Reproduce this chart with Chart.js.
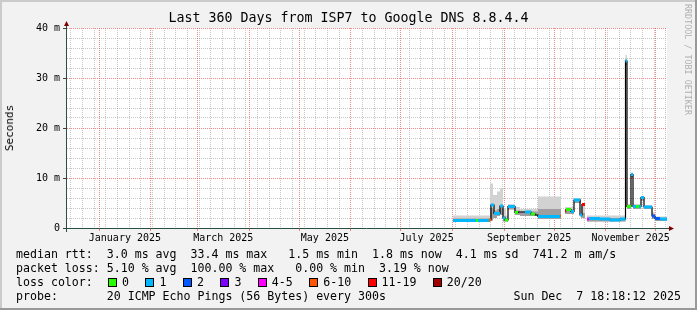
<!DOCTYPE html>
<html>
<head>
<meta charset="utf-8">
<script src="https://cdn.jsdelivr.net/npm/chart.js@4.4.1/dist/chart.umd.min.js"></script>
<style>
  html, body { margin: 0; padding: 0; background: #f2f2f2; }
  #wrap { position: relative; width: 697px; height: 310px; overflow: hidden;
          font-family: "DejaVu Sans Mono", monospace; color: #000; }
  #myChart { position: absolute; left: 0; top: 0; }
  .txt { position: absolute; white-space: pre; font-size: 11.6px; line-height: 14px; }
  #title { position: absolute; left: 0; top: 10px; width: 697px; text-align: center;
           font-size: 13.3px; line-height: 16px; white-space: pre; }
  #ylab { position: absolute; left: 10px; top: 128px; font-size: 11px; line-height: 12px;
          transform: translate(-50%, -50%) rotate(-90deg); white-space: pre; }
  #mark { position: absolute; left: 683px; top: 4px; writing-mode: vertical-rl;
          font-size: 8.4px; color: #b0b0b0; white-space: pre; letter-spacing: 0; }
  .box { position: absolute; width: 7px; height: 7px; border: 1px solid #000; }
</style>
</head>
<body>
<div id="wrap">
  <canvas id="myChart" width="697" height="310"></canvas>
  <div id="title">Last 360 Days from ISP7 to Google DNS 8.8.4.4</div>
  <div id="ylab">Seconds</div>
  <div id="mark">RRDTOOL / TOBI OETIKER</div>
  <div class="txt" style="left:16px; top:247px;">median rtt:  3.0 ms avg  33.4 ms max   1.5 ms min  1.8 ms now  4.1 ms sd  741.2 m am/s</div>
  <div class="txt" style="left:16px; top:261px;">packet loss: 5.10 % avg  100.00 % max   0.00 % min  3.19 % now</div>
  <div class="txt" style="left:16px; top:275px;">loss color:</div>
  <div id="losses"></div>
  <div class="txt" style="left:16px; top:289px;">probe:       20 ICMP Echo Pings (56 Bytes) every 300s</div>
  <div class="txt" style="right:16px; top:289px;">Sun Dec  7 18:18:12 2025</div>
</div>
<script>
// time frame: 360 days ending at the graph time
const endTime = Date.UTC(2025, 11, 7, 18, 18, 12);
const spanDays = 360;
const startTime = endTime - spanDays * 86400000;

const monthLabels = ['January 2025', 'March 2025', 'May 2025', 'July 2025', 'September 2025', 'November 2025'];
const monthLabelMonths = [0, 2, 4, 6, 8, 10];

const yTickValues = [0, 10, 20, 30, 40];
const yTickLabels = ['0', '10 m', '20 m', '30 m', '40 m'];

const lossLabels = ['0', '1', '2', '3', '4-5', '6-10', '11-19', '20/20'];
const lossColors = ['#26ff00', '#00b8ff', '#0059ff', '#7e00ff', '#ff00ff', '#ff5500', '#ff0000', '#a10000'];

// median rtt runs (day in window, ms, loss color index, -1 = plain line)
const medStart = [231.6, 245.4, 246.6, 253.2, 254.4, 256.2, 259.8, 261.6, 262.8, 264.6, 268.8, 270.6, 274.8, 278.4, 280.8, 282.6, 295.8,
                  298.8, 299.4, 302.4, 304.2, 307.8, 309.0,
                  312.0, 313.2, 319.8, 325.8, 331.8, 335.1, 336.0, 338.4, 339.6, 341.4, 343.2, 344.4, 346.2, 351.0, 352.8, 355.8];
const medEnd   = [245.4, 246.6, 253.2, 254.4, 256.2, 259.8, 261.6, 262.8, 264.6, 268.8, 270.6, 274.8, 278.4, 280.8, 282.6, 295.8, 296.4,
                  299.4, 302.4, 304.2, 307.8, 309.0, 310.8,
                  313.2, 319.8, 325.8, 331.8, 335.1, 336.0, 338.4, 339.6, 341.4, 343.2, 344.4, 346.2, 351.0, 352.8, 355.8, 360.0];
const medMs    = [1.5, 1.5, 1.5, 1.6, 4.6, 2.9, 4.4, 2.0, 1.6, 4.3, 3.1, 3.2, 3.2, 2.8, 2.6, 2.3, 2.4,
                  3.4, 3.7, 3.3, 5.6, 2.6, 4.7,
                  1.8, 1.9, 1.8, 1.6, 1.8, 33.4, 4.3, 10.7, 4.3, 4.3, 4.3, 6.1, 4.2, 2.4, 1.9, 1.8];
const medLoss  = [1, 0, 1, 5, 1, 1, 1, 1, 0, 1, 0, -1, 1, 0, -1, 1, 5,
                  6, 0, 1, 1, 1, 6,
                  4, 1, 1, 1, 1, 1, 0, 1, 1, 0, 1, 1, 1, 2, 2, 1];

// smoke (spread of the 20 pings), ms
const smokeStart = [231.6, 253.8, 255.6, 258.0, 259.8, 261.6, 263.4, 264.6, 268.8, 271.8, 282.6,
                    298.8, 304.2, 308.4,
                    312.0, 335.1, 336.0, 338.4, 339.6, 344.4, 346.2, 351.0, 352.8];
const smokeEnd   = [253.8, 255.6, 258.0, 259.8, 261.6, 263.4, 264.6, 268.8, 271.8, 282.6, 296.4,
                    304.2, 308.4, 310.8,
                    335.1, 336.0, 338.4, 339.6, 344.4, 346.2, 351.0, 352.8, 360.0];
const smokeLo    = [1.2, 1.5, 2.0, 2.4, 2.6, 1.3, 1.3, 3.7, 2.6, 2.4, 1.8,
                    2.8, 5.0, 2.0,
                    1.3, 32.6, 3.8, 10.1, 3.8, 5.5, 3.8, 1.8, 1.4];
const smokeCore  = [1.9, 4.0, 3.5, 3.8, 4.5, 2.4, 2.0, 4.4, 3.5, 3.3, 3.8,
                    3.7, 5.7, 3.0,
                    2.0, 33.8, 4.4, 10.8, 4.4, 6.2, 4.3, 2.8, 2.0];
const smokeHi    = [2.5, 8.9, 6.6, 7.3, 7.9, 4.0, 2.5, 4.8, 4.2, 3.8, 6.3,
                    4.2, 6.0, 4.8,
                    2.5, 34.6, 4.8, 11.1, 4.8, 6.4, 4.6, 3.2, 2.3];

function dayOf(t) { return (t - startTime) / 86400000; }

function steps(starts, ends, vals) {
  const pts = [];
  for (let i = 0; i < starts.length; i++) {
    if (i > 0 && Math.abs(starts[i] - ends[i - 1]) > 0.01) pts.push({x: ends[i - 1], y: null});
    pts.push({x: starts[i], y: vals[i]});
    pts.push({x: ends[i], y: vals[i]});
  }
  return pts;
}

let colored = [];
let coloredLoss = [];
for (let i = 0; i < medStart.length; i++) {
  if (medLoss[i] < 0) continue;
  colored.push({x: medStart[i], y: medMs[i]}); coloredLoss.push(medLoss[i]);
  colored.push({x: medEnd[i], y: medMs[i]}); coloredLoss.push(medLoss[i]);
  colored.push({x: medEnd[i], y: null}); coloredLoss.push(-1);
}

function buildXTicks() {
  const ticks = [];
  for (let m = 0; m < 12; m++) {
    const d = dayOf(Date.UTC(2025, m, 1));
    if (d > 0 && d < spanDays) ticks.push({value: d, kind: 'month'});
  }
  let t = Date.UTC(2024, 11, 15); // first Sunday
  while (dayOf(t) < spanDays) {
    const d = dayOf(t);
    if (!ticks.some(k => Math.abs(k.value - d) < 0.5)) ticks.push({value: d, kind: 'week'});
    t += 7 * 86400000;
  }
  monthLabels.forEach((lab, i) => {
    const m = monthLabelMonths[i];
    const a = dayOf(Date.UTC(2025, m, 1)), b = dayOf(Date.UTC(2025, m + 1, 1));
    ticks.push({value: (a + b) / 2, kind: 'label', text: lab});
  });
  ticks.sort((a, b) => a.value - b.value);
  return ticks;
}

const majorGrid = 'rgba(240,60,60,0.6)';
const minorGrid = 'rgba(130,130,130,0.45)';

const framePlugin = {
  id: 'frame',
  beforeDraw(chart) {
    const c = chart.ctx, a = chart.chartArea;
    c.save();
    c.fillStyle = '#f2f2f2';
    c.fillRect(0, 0, chart.width, chart.height);
    c.fillStyle = '#cbcbcb';
    c.fillRect(0, 0, chart.width, 2);
    c.fillRect(0, 0, 2, chart.height);
    c.fillStyle = '#999999';
    c.fillRect(0, chart.height - 2, chart.width, 2);
    c.fillRect(chart.width - 2, 0, 2, chart.height);
    c.fillStyle = '#ffffff';
    c.fillRect(a.left, a.top, a.right - a.left, a.bottom - a.top);
    c.restore();
  },
  afterDraw(chart) {
    const c = chart.ctx, a = chart.chartArea;
    c.save();
    c.strokeStyle = '#2c4d43';
    c.lineWidth = 1;
    c.beginPath();
    c.moveTo(a.left - 0.5, a.bottom + 4);
    c.lineTo(a.left - 0.5, a.top - 3);
    c.moveTo(a.left - 4, a.bottom + 0.5);
    c.lineTo(a.right + 3, a.bottom + 0.5);
    c.stroke();
    c.fillStyle = '#7f0000';
    c.beginPath();
    c.moveTo(a.left - 3, a.top - 2);
    c.lineTo(a.left + 2, a.top - 2);
    c.lineTo(a.left - 0.5, a.top - 7);
    c.closePath();
    c.fill();
    c.beginPath();
    c.moveTo(a.right + 2, a.bottom - 2);
    c.lineTo(a.right + 2, a.bottom + 3);
    c.lineTo(a.right + 7, a.bottom + 0.5);
    c.closePath();
    c.fill();
    c.restore();
  }
};

const data = {
  datasets: [
    {
      label: 'median loss',
      data: colored,
      borderWidth: 3,
      borderColor: '#00b8ff',
      segment: {
        borderColor: ctx => lossColors[coloredLoss[ctx.p0DataIndex]] || 'rgba(0,0,0,0)'
      },
      pointRadius: 0,
      fill: false,
      order: 0
    },
    {
      label: 'median',
      data: steps(medStart, medEnd, medMs),
      borderColor: '#000000',
      borderWidth: 1.2,
      pointRadius: 0,
      fill: false,
      order: 1
    },
    {
      label: 'smoke core',
      data: steps(smokeStart, smokeEnd, smokeCore),
      borderWidth: 0,
      borderColor: 'rgba(0,0,0,0)',
      backgroundColor: '#9e9e9e',
      pointRadius: 0,
      fill: 4,
      order: 2
    },
    {
      label: 'smoke',
      data: steps(smokeStart, smokeEnd, smokeHi),
      borderWidth: 0,
      borderColor: 'rgba(0,0,0,0)',
      backgroundColor: '#d2d2d2',
      pointRadius: 0,
      fill: 4,
      order: 3
    },
    {
      label: 'smoke min',
      data: steps(smokeStart, smokeEnd, smokeLo),
      borderWidth: 0,
      borderColor: 'rgba(0,0,0,0)',
      pointRadius: 0,
      fill: false,
      order: 4
    }
  ]
};

const config = {
  type: 'line',
  data: data,
  plugins: [framePlugin],
  options: {
    responsive: false,
    animation: false,
    events: [],
    layout: { padding: { left: 0, top: 28, right: 30, bottom: 62 } },
    plugins: { legend: { display: false }, tooltip: { enabled: false }, title: { display: false } },
    scales: {
      x: {
        type: 'linear',
        min: 0,
        max: spanDays,
        afterBuildTicks: scale => { scale.ticks = buildXTicks(); },
        afterFit: scale => { scale.height = 20; },
        border: { display: false, dash: [1, 1] },
        grid: {
          color: ctx => ctx.tick.kind === 'month' ? majorGrid : (ctx.tick.kind === 'week' ? minorGrid : 'rgba(0,0,0,0)'),
          tickColor: ctx => ctx.tick.kind === 'month' ? majorGrid : 'rgba(0,0,0,0)',
          tickLength: 3,
          lineWidth: 1
        },
        ticks: {
          autoSkip: false,
          maxRotation: 0,
          padding: 1,
          color: '#000',
          font: { family: 'DejaVu Sans Mono', size: 10 },
          callback: (v, i, ticks) => ticks[i].kind === 'label' ? ticks[i].text : ''
        }
      },
      y: {
        min: 0,
        max: 40,
        afterFit: scale => { scale.width = 67; },
        border: { display: false, dash: [1, 1] },
        grid: {
          color: ctx => ctx.tick.value % 10 === 0 ? majorGrid : minorGrid,
          tickColor: ctx => ctx.tick.value % 10 === 0 ? '#2c4d43' : 'rgba(0,0,0,0)',
          tickLength: 4
        },
        ticks: {
          stepSize: 2,
          maxTicksLimit: 1000,
          autoSkip: false,
          padding: 3,
          color: '#000',
          font: { family: 'DejaVu Sans Mono', size: 10 },
          callback: v => {
            const k = yTickValues.indexOf(v);
            return k >= 0 ? yTickLabels[k] : '';
          }
        }
      }
    }
  }
};

// loss colour legend
const lossBox = document.getElementById('losses');
let lx = 108;
lossLabels.forEach((lab, i) => {
  const b = document.createElement('div');
  b.className = 'box';
  b.style.left = lx + 'px';
  b.style.top = '278px';
  b.style.background = lossColors[i];
  lossBox.appendChild(b);
  const t = document.createElement('div');
  t.className = 'txt';
  t.style.left = (lx + 14) + 'px';
  t.style.top = '275px';
  t.textContent = lab;
  lossBox.appendChild(t);
  lx += 30.5 + 6.96 * lab.length;
});

const ctx = document.getElementById('myChart').getContext('2d');
let myChart = new Chart(ctx, config);
</script>
</body>
</html>
